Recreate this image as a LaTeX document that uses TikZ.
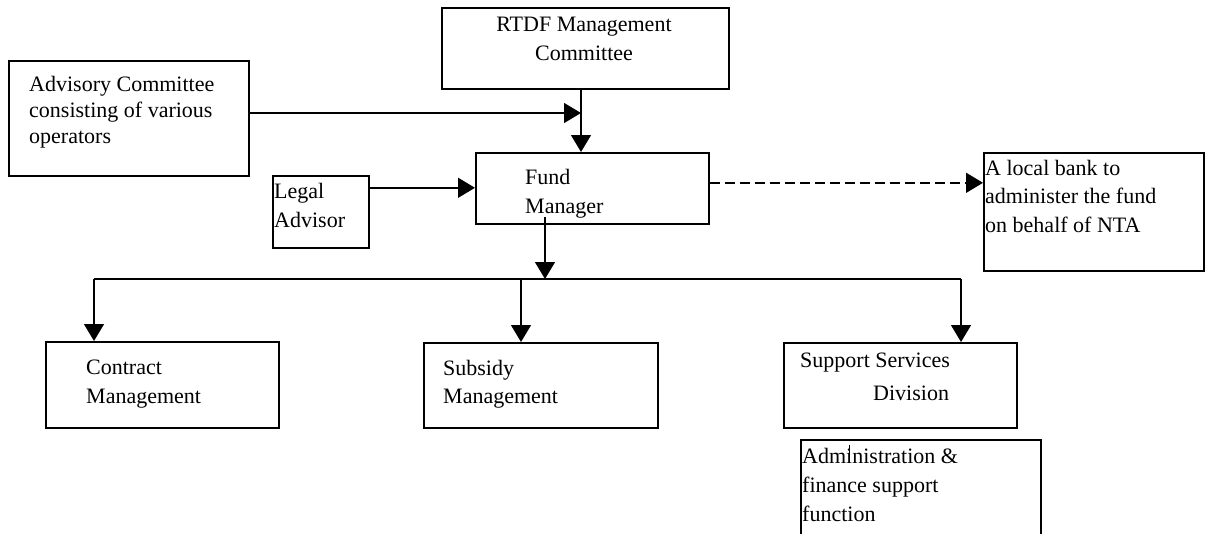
\documentclass[tikz,border=0pt]{standalone}
\usepackage{fontspec}
\setmainfont{Liberation Serif}
\usetikzlibrary{arrows.meta,calc}
\begin{document}
\begin{tikzpicture}[x=1pt,y=-1pt,
  box/.style={draw,line width=1.6pt,anchor=north west,inner sep=0pt},
  txt/.style={anchor=base west,inner sep=0pt,font=\fontsize{22}{28}\selectfont},
  ctxt/.style={anchor=base,inner sep=0pt,font=\fontsize{22}{28}\selectfont},
  conn/.style={line width=1.5pt},
  arr/.style={conn,-{Triangle[length=17pt,width=20pt]}},
  dash arr/.style={arr,dash pattern=on 10pt off 5pt}]
\useasboundingbox (0,0) rectangle (1206,533);
% boxes
\node[box,minimum width=287pt,minimum height=81pt] (rtdf) at (441,7) {};
\node[box,minimum width=240pt,minimum height=115pt] (adv) at (8,60) {};
\node[box,minimum width=96pt,minimum height=72pt] (legal) at (272,175) {};
\node[box,minimum width=233pt,minimum height=71pt] (fm) at (475,152) {};
\node[box,minimum width=220pt,minimum height=118pt] (bank) at (983,152) {};
\node[box,minimum width=233pt,minimum height=86pt] (contract) at (45,341) {};
\node[box,minimum width=234pt,minimum height=85pt] (subsidy) at (423,342) {};
\node[box,minimum width=233pt,minimum height=85pt] (support) at (783,342) {};
\node[box,minimum width=240pt,minimum height=110pt] (admin) at (800,439) {};
% texts
\node[ctxt] (t1a) at (584,31) {RTDF Management};
\node[ctxt] (t1b) at (584,60) {Committee};
\node[txt] (t2a) at (29,91) {Advisory Committee};
\node[txt] (t2b) at (29,117) {consisting of various};
\node[txt] (t2c) at (29,143) {operators};
\node[txt] (t3a) at (274,198) {Legal};
\node[txt] (t3b) at (274,227) {Advisor};
\node[txt] (t4a) at (525,184) {Fund};
\node[txt] (t4b) at (525,213) {Manager};
\node[txt] (t5a) at (985,175) {A local bank to};
\node[txt] (t5b) at (985,203) {administer the fund};
\node[txt] (t5c) at (985,232) {on behalf of NTA};
\node[txt] (t6a) at (86,374) {Contract};
\node[txt] (t6b) at (86,403) {Management};
\node[txt] (t7a) at (443,375) {Subsidy};
\node[txt] (t7b) at (443,403) {Management};
\node[txt] (t8a) at (800,367) {Support Services};
\node[txt] (t8b) at (873,400) {Division};
\node[txt] (t9a) at (802,463) {Administration \&};
\node[txt] (t9b) at (802,492) {finance support};
\node[txt] (t9c) at (802,521) {function};
\draw[line width=1pt] (849,445) -- (849,462);
% coordinates
\coordinate (vtop) at (581,88);
\coordinate (j1) at (581,113);
\coordinate (fmout) at (545,217);
\coordinate (hub) at (545,279);
\coordinate (bl) at (94,279);
\coordinate (bm) at (521,279);
\coordinate (br) at (961,279);
% connectors
\draw[arr] (vtop) -- (vtop |- fm.north);
\draw[arr] (adv.east |- j1) -- (j1);
\draw[arr] ([yshift=24pt]legal.east) -- ([yshift=24pt]legal.east -| fm.west);
\draw[dash arr] ([yshift=5.5pt]fm.east) -- ([yshift=5.5pt]fm.east -| bank.west);
\draw[arr] (fmout) -- (hub);
\draw[conn] (bl) -- (br);
\draw[arr] (bl) -- (bl |- contract.north);
\draw[arr] (bm) -- (bm |- subsidy.north);
\draw[arr] (br) -- (br |- support.north);
\end{tikzpicture}
\end{document}
